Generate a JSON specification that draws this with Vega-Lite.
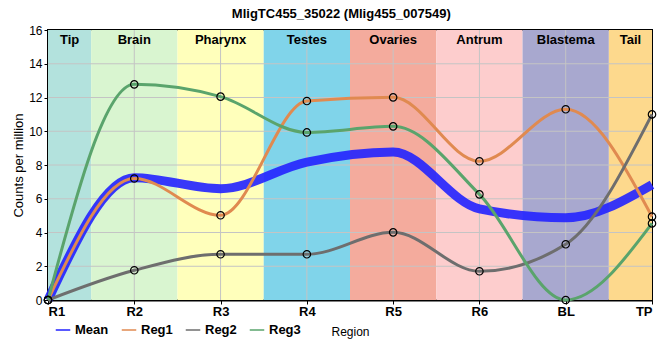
{
  "$schema": "https://vega.github.io/schema/vega-lite/v6.json",
  "width": 604,
  "height": 270,
  "autosize": "none",
  "padding": {"left": 48, "top": 30, "right": 8, "bottom": 60},
  "title": {"text": "MligTC455_35022 (Mlig455_007549)", "font": "Liberation Sans", "fontSize": 13, "fontWeight": "bold", "color": "black", "frame": "bounds", "offset": 3},
  "config": {
    "font": "Liberation Sans",
    "view": {"stroke": "black", "strokeWidth": 2},
    "axis": {"labelFont": "Liberation Sans", "titleFont": "Liberation Sans", "labelColor": "black", "titleColor": "black", "domainColor": "black", "domainWidth": 2, "tickColor": "black", "grid": false, "labelOverlap": false},
    "axisX": {"tickCount": 8, "grid": false},
    "axisY": {"tickCount": 9, "grid": false}
  },
  "datasets": {
    "regions": [
      {"name": "Tip", "start": 0, "end": 0.5, "mid": 0.25},
      {"name": "Brain", "start": 0.5, "end": 1.5, "mid": 1},
      {"name": "Pharynx", "start": 1.5, "end": 2.5, "mid": 2},
      {"name": "Testes", "start": 2.5, "end": 3.5, "mid": 3},
      {"name": "Ovaries", "start": 3.5, "end": 4.5, "mid": 4},
      {"name": "Antrum", "start": 4.5, "end": 5.5, "mid": 5},
      {"name": "Blastema", "start": 5.5, "end": 6.5, "mid": 6},
      {"name": "Tail", "start": 6.5, "end": 7, "mid": 6.75}
    ],
    "gridX": [{"gx": 1}, {"gx": 2}, {"gx": 3}, {"gx": 4}, {"gx": 5}, {"gx": 6}],
    "gridY": [{"gy": 2}, {"gy": 4}, {"gy": 6}, {"gy": 8}, {"gy": 10}, {"gy": 12}, {"gy": 14}],
    "expr": [
      {"pos": 0, "region": "R1", "series": "Mean", "value": 0},
      {"pos": 1, "region": "R2", "series": "Mean", "value": 7.25},
      {"pos": 2, "region": "R3", "series": "Mean", "value": 6.6},
      {"pos": 3, "region": "R4", "series": "Mean", "value": 8.17},
      {"pos": 4, "region": "R5", "series": "Mean", "value": 8.77},
      {"pos": 5, "region": "R6", "series": "Mean", "value": 5.4},
      {"pos": 6, "region": "BL", "series": "Mean", "value": 4.87},
      {"pos": 7, "region": "TP", "series": "Mean", "value": 6.83},
      {"pos": 0, "region": "R1", "series": "Reg1", "value": 0},
      {"pos": 1, "region": "R2", "series": "Reg1", "value": 7.2},
      {"pos": 2, "region": "R3", "series": "Reg1", "value": 5.02},
      {"pos": 3, "region": "R4", "series": "Reg1", "value": 11.79},
      {"pos": 4, "region": "R5", "series": "Reg1", "value": 12.01},
      {"pos": 5, "region": "R6", "series": "Reg1", "value": 8.22},
      {"pos": 6, "region": "BL", "series": "Reg1", "value": 11.3},
      {"pos": 7, "region": "TP", "series": "Reg1", "value": 4.94},
      {"pos": 0, "region": "R1", "series": "Reg2", "value": 0},
      {"pos": 1, "region": "R2", "series": "Reg2", "value": 1.76},
      {"pos": 2, "region": "R3", "series": "Reg2", "value": 2.71},
      {"pos": 3, "region": "R4", "series": "Reg2", "value": 2.71},
      {"pos": 4, "region": "R5", "series": "Reg2", "value": 4.01},
      {"pos": 5, "region": "R6", "series": "Reg2", "value": 1.7},
      {"pos": 6, "region": "BL", "series": "Reg2", "value": 3.3},
      {"pos": 7, "region": "TP", "series": "Reg2", "value": 11.0},
      {"pos": 0, "region": "R1", "series": "Reg3", "value": 0},
      {"pos": 1, "region": "R2", "series": "Reg3", "value": 12.78},
      {"pos": 2, "region": "R3", "series": "Reg3", "value": 12.05},
      {"pos": 3, "region": "R4", "series": "Reg3", "value": 9.93},
      {"pos": 4, "region": "R5", "series": "Reg3", "value": 10.29},
      {"pos": 5, "region": "R6", "series": "Reg3", "value": 6.26},
      {"pos": 6, "region": "BL", "series": "Reg3", "value": 0},
      {"pos": 7, "region": "TP", "series": "Reg3", "value": 4.54}
    ]
  },
  "layer": [
    {
      "data": {"name": "regions"},
      "mark": {"type": "rect"},
      "encoding": {
        "x": {
          "field": "start", "type": "quantitative", "title": "Region",
          "scale": {"domain": [0, 7], "nice": false, "zero": false},
          "axis": {"values": [0, 1, 2, 3, 4, 5, 6, 7], "tickCount": 8, "grid": false, "labelExpr": "['R1','R2','R3','R4','R5','R6','BL','TP'][datum.value]", "labelFontSize": 13, "labelFontWeight": "bold", "labelPadding": 1, "tickSize": 4, "titleFontSize": 12, "titleFontWeight": "normal", "titlePadding": 8, "labelOverlap": false}
        },
        "x2": {"field": "end"},
        "y": {
          "datum": 0, "type": "quantitative", "title": "Counts per million",
          "scale": {"domain": [0, 16], "nice": false},
          "axis": {"values": [0, 2, 4, 6, 8, 10, 12, 14, 16], "tickCount": 9, "grid": false, "labelFontSize": 12, "labelPadding": 2, "tickSize": 4, "titleFontSize": 13, "titleFontWeight": "normal", "titlePadding": 3, "labelOverlap": false}
        },
        "y2": {"datum": 16},
        "fill": {
          "field": "name", "type": "nominal", "legend": null,
          "scale": {
            "domain": ["Tip", "Brain", "Pharynx", "Testes", "Ovaries", "Antrum", "Blastema", "Tail"],
            "range": ["#b3e2dd", "#d9f5d0", "#ffffbb", "#80d4ea", "#f4ab9d", "#fdcdcd", "#a8a8cf", "#fdd98d"]
          }
        }
      }
    },
    {
      "data": {"name": "gridX"},
      "mark": {"type": "rule", "color": "#c4c4c4", "strokeWidth": 1},
      "encoding": {"x": {"field": "gx", "type": "quantitative", "title": "Region"}}
    },
    {
      "data": {"name": "gridY"},
      "mark": {"type": "rule", "color": "#c4c4c4", "strokeWidth": 1},
      "encoding": {"y": {"field": "gy", "type": "quantitative", "title": "Counts per million"}}
    },
    {
      "data": {"name": "regions"},
      "mark": {"type": "text", "font": "Liberation Sans", "fontSize": 13, "fontWeight": "bold", "color": "black", "baseline": "alphabetic", "dy": 14},
      "encoding": {
        "x": {"field": "mid", "type": "quantitative", "title": "Region"},
        "y": {"datum": 16, "type": "quantitative", "title": "Counts per million"},
        "text": {"field": "name"}
      }
    },
    {
      "mark": {"type": "rule", "color": "black", "strokeWidth": 2.5, "strokeDash": [6, 4]},
      "encoding": {"x": {"datum": 6.5, "type": "quantitative", "title": "Region"}}
    },
    {
      "data": {"name": "expr"},
      "mark": {"type": "line", "interpolate": "monotone", "strokeCap": "butt"},
      "encoding": {
        "x": {"field": "pos", "type": "quantitative", "title": "Region"},
        "y": {"field": "value", "type": "quantitative", "title": "Counts per million"},
        "color": {
          "field": "series", "type": "nominal",
          "scale": {"domain": ["Mean", "Reg1", "Reg2", "Reg3"], "range": ["#2222ff", "#e08a50", "#6e6e6e", "#5aa46c"]},
          "legend": {
            "orient": "none", "legendX": 7, "legendY": 292, "direction": "horizontal", "title": null,
            "symbolType": "stroke", "symbolSize": 210, "labelFontSize": 13, "labelFontWeight": "bold", "labelFont": "Liberation Sans",
            "labelOffset": 4, "columnPadding": 9,
            "encode": {
              "labels": {"update": {"fill": {"scale": "color", "field": "value"}, "opacity": {"value": 0.8}}},
              "symbols": {"update": {"strokeWidth": {"signal": "datum.value === 'Mean' ? 7 : 3"}}}
            }
          }
        },
        "strokeWidth": {"condition": {"test": "datum.series === 'Mean'", "value": 9}, "value": 3},
        "opacity": {"condition": {"test": "datum.series === 'Mean'", "value": 0.9}, "value": 1}
      }
    },
    {
      "data": {"name": "expr"},
      "transform": [{"filter": "datum.series !== 'Mean'"}],
      "mark": {"type": "point", "shape": "circle", "filled": false, "stroke": "black", "strokeWidth": 1.2, "size": 55, "opacity": 1},
      "encoding": {
        "x": {"field": "pos", "type": "quantitative", "title": "Region"},
        "y": {"field": "value", "type": "quantitative", "title": "Counts per million"}
      }
    }
  ]
}
